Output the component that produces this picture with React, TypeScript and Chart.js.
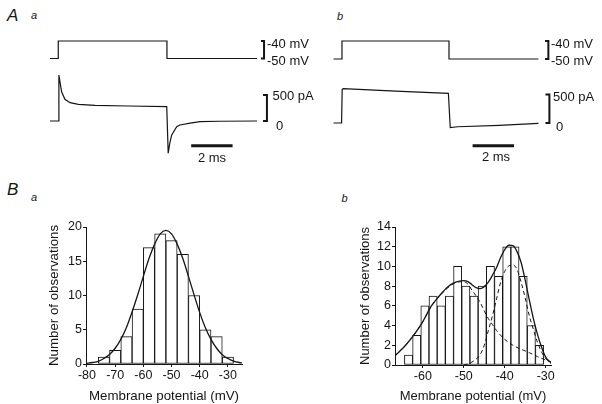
import React, { useEffect, useRef } from "react";
import { Chart, registerables } from "chart.js";

Chart.register(...registerables);

const FONT = "'Liberation Sans', Arial, Helvetica, sans-serif";
const INK = "#151515";
Chart.defaults.font.family = FONT;
Chart.defaults.color = INK;

// ---------------- Panel A a (voltage step and current) ----------------
const aaVoltTimeMs = [0, 0.4, 0.4, 5.65, 5.65, 10];
const aaVoltMV = [-50, -50, -40, -40, -50, -50];
const aaCurTimeMs = [0, 0.4, 0.43, 0.56, 0.72, 0.97, 1.37, 2.18, 3.77, 5.64, 5.71, 5.79, 5.88, 6.12, 6.28, 6.77, 7.25, 8.21, 10];
const aaCurPA = [0, 0, 885, 563, 417, 352, 321, 302, 288, 275, -620, -420, -269, -110, -77, -40, -13, -5, 0];

// ---------------- Panel A b ----------------
const abVoltTimeMs = [0, 0.41, 0.41, 5.58, 5.58, 9.9];
const abVoltMV = [-50, -50, -40, -40, -50, -50];
const abCurTimeMs = [0, 0.39, 0.42, 0.47, 3.0, 5.55, 5.64, 6.0, 8.0, 9.9];
const abCurPA = [0, 0, 591, 602, 560, 521, -82, -66, -40, -5];

// scale bars / calibration brackets
const timeBarMs = 2;
const voltBracketMV = [-40, -50];
const curBracketPA = [500, 0];

// ---------------- Panel B a histogram ----------------
const baBinCentersMV = [-74, -70, -66, -62, -58, -54, -50, -46, -42, -38, -34, -30];
const baCounts = [1, 2, 4, 8, 17, 19, 18, 16, 10, 5, 4, 1];
const baFitMV = [-80.3, -78, -76, -74, -72, -70, -68, -66, -64, -62, -60, -58, -56, -54, -52, -50, -48, -46, -44, -42, -40, -38, -36, -34, -32, -30, -28, -26, -25];
const baFitCount = [0.1, 0.22, 0.38, 0.8, 1.39, 2.3, 3.6, 5.34, 7.6, 10.1, 12.8, 15.4, 17.5, 19.0, 19.5, 19.0, 17.5, 15.4, 12.8, 10.1, 7.5, 5.3, 3.6, 2.3, 1.35, 0.8, 0.43, 0.22, 0.16];
const baXTicks = [-80, -70, -60, -50, -40, -30];

// ---------------- Panel B b histogram ----------------
const bbBinCentersMV = [-63.5, -61.5, -59.5, -57.5, -55.5, -53.5, -51.5, -49.5, -47.5, -45.5, -43.5, -41.5, -39.5, -37.5, -35.5, -33.5, -31.5];
const bbCounts = [1, 3, 6, 7, 6, 7, 10, 8, 7, 8, 10, 9, 12, 12, 9, 4, 2];
const bbSumMV = [-66.8, -66, -64, -62, -60, -58, -56, -54, -52, -50, -49, -48, -47, -46, -45, -44, -43, -42, -41, -40, -39, -38, -37, -36, -35, -34, -33, -32, -31, -30, -29, -28.7];
const bbSumCount = [0.95, 1.25, 2.1, 3.15, 4.4, 5.95, 7.0, 7.9, 8.4, 8.55, 8.45, 8.15, 7.85, 7.75, 7.95, 8.4, 9.1, 9.9, 10.9, 11.7, 12.15, 12.1, 11.5, 10.4, 8.6, 6.6, 4.7, 3.1, 1.8, 0.8, 0.35, 0.25];
const bbBroadMV = [-66.8, -66, -64, -62, -60, -58, -56, -54, -52, -50, -49, -48, -47, -46, -45, -44, -43, -42, -40, -38, -36, -34, -32, -30, -28.7];
const bbBroadCount = [0.95, 1.25, 2.1, 3.15, 4.4, 5.9, 6.95, 7.8, 8.35, 8.45, 8.2, 7.6, 7.0, 6.35, 5.5, 4.7, 4.1, 3.5, 2.6, 2.0, 1.6, 1.25, 0.85, 0.5, 0.3];
const bbNarrowMV = [-50, -49, -48, -47, -46, -45, -44, -43, -42, -41, -40, -39, -38, -37, -36, -35, -34, -33, -32, -31, -30, -29, -28.7];
const bbNarrowCount = [0, 0.1, 0.3, 0.6, 1.05, 2.0, 3.5, 5.0, 6.7, 8.4, 9.5, 10.05, 10.15, 9.7, 8.4, 6.8, 5.0, 3.6, 2.3, 1.3, 0.65, 0.25, 0.15];
const bbXTicks = [-60, -50, -40, -30];

type Pt = { x: number; y: number };
const zip = (xs: number[], ys: number[]): Pt[] => xs.map((x, i) => ({ x, y: ys[i] }));

function ChartCanvas(props: { left: number; top: number; width: number; height: number; make: () => any }) {
  const ref = useRef<HTMLCanvasElement | null>(null);
  useEffect(() => {
    if (!ref.current) return;
    const chart = new Chart(ref.current, props.make());
    return () => chart.destroy();
  }, []);
  return (
    <div style={{ position: "absolute", left: props.left, top: props.top, width: props.width, height: props.height }}>
      <canvas ref={ref} width={props.width} height={props.height} style={{ width: props.width, height: props.height, display: "block" }} />
    </div>
  );
}

function Txt(props: { x: number; y: number; size?: number; italic?: boolean; center?: boolean; children: React.ReactNode }) {
  return (
    <div
      style={{
        position: "absolute",
        left: props.x,
        top: props.y,
        fontFamily: FONT,
        fontSize: props.size ?? 13,
        fontStyle: props.italic ? "italic" : "normal",
        lineHeight: 1,
        whiteSpace: "nowrap",
        color: INK,
        transform: `translate(${props.center ? "-50%" : "0"}, -50%)`,
      }}
    >
      {props.children}
    </div>
  );
}

function traceConfig(o: {
  voltT: number[]; voltV: number[]; curT: number[]; curI: number[];
  tMin: number; tMax: number; vMin: number; vMax: number; iMin: number; iMax: number;
  vBr: [number, number]; iBr: [number, number]; barStart: number; barY: number;
}) {
  const line = (data: Pt[], axis: string, extra: any = {}) => ({
    type: "line", data, yAxisID: axis, borderColor: INK, borderWidth: 1.2,
    pointRadius: 0, tension: 0, fill: false, borderJoinStyle: "miter", ...extra,
  });
  const bracket = (t0: number, t1: number, hi: number, lo: number): Pt[] => [
    { x: t0, y: hi }, { x: t1, y: hi }, { x: t1, y: lo }, { x: t0, y: lo },
  ];
  return {
    type: "line",
    data: {
      datasets: [
        line(zip(o.voltT, o.voltV), "yV"),
        line(zip(o.curT, o.curI), "yI"),
        line(bracket(o.vBr[0], o.vBr[1], voltBracketMV[0], voltBracketMV[1]), "yV", { borderWidth: 2 }),
        line(bracket(o.iBr[0], o.iBr[1], curBracketPA[0], curBracketPA[1]), "yI", { borderWidth: 2 }),
        line([{ x: o.barStart, y: o.barY }, { x: o.barStart + timeBarMs, y: o.barY }], "yI", { borderWidth: 3 }),
      ],
    },
    options: {
      responsive: false,
      animation: false,
      events: [],
      layout: { padding: 0 },
      plugins: { legend: { display: false }, tooltip: { enabled: false } },
      scales: {
        x: { type: "linear", display: false, min: o.tMin, max: o.tMax },
        yV: { type: "linear", display: false, min: o.vMin, max: o.vMax },
        yI: { type: "linear", display: false, min: o.iMin, max: o.iMax },
      },
    },
  };
}

function histConfig(o: {
  centers: number[]; counts: number[];
  fits: { x: number[]; y: number[]; dash?: number[] }[];
  xMin: number; xMax: number; xTicks: number[]; yMax: number; yStep: number;
  yAxisWidth: number; xAxisHeight: number; titlePad: number; padTop: number; padRight: number;
  yTitleSize: number; xTitleSize: number;
}) {
  const fitSets = o.fits.map((f) => ({
    type: "line", data: zip(f.x, f.y), borderColor: INK, borderWidth: f.dash ? 1 : 1.3,
    borderDash: f.dash ?? [], pointRadius: 0, cubicInterpolationMode: "monotone", fill: false, order: 0,
  }));
  return {
    type: "bar",
    data: {
      datasets: [
        {
          type: "bar", data: zip(o.centers, o.counts), backgroundColor: "#ffffff",
          borderColor: INK, borderWidth: 1, barPercentage: 1, categoryPercentage: 1,
          borderSkipped: false, order: 2,
        },
        ...fitSets,
      ],
    },
    options: {
      responsive: false,
      animation: false,
      events: [],
      layout: { padding: { top: o.padTop, right: o.padRight, left: 0, bottom: 0 } },
      plugins: { legend: { display: false }, tooltip: { enabled: false } },
      scales: {
        x: {
          type: "linear", min: o.xMin, max: o.xMax, offset: false,
          afterBuildTicks: (s: any) => { s.ticks = o.xTicks.map((v) => ({ value: v })); },
          afterFit: (s: any) => { s.height = o.xAxisHeight; },
          ticks: { font: { size: 12.5 }, color: INK, padding: 1, maxRotation: 0, autoSkip: false, callback: (v: any) => String(v) },
          grid: { offset: false, drawOnChartArea: false, drawTicks: true, tickLength: 3, color: INK },
          border: { display: true, color: INK, width: 1 },
          title: { display: true, text: "Membrane potential (mV)", font: { size: o.xTitleSize }, color: INK, padding: { top: 0, bottom: 0 } },
        },
        y: {
          type: "linear", min: 0, max: o.yMax,
          afterFit: (s: any) => { s.width = o.yAxisWidth; },
          ticks: { stepSize: o.yStep, font: { size: 12.5 }, color: INK, padding: 1 },
          grid: { drawOnChartArea: false, drawTicks: true, tickLength: 3, color: INK },
          border: { display: true, color: INK, width: 1 },
          title: { display: true, text: "Number of observations", font: { size: o.yTitleSize }, color: INK, padding: { top: o.titlePad, bottom: 0 } },
        },
      },
    },
  };
}

export default function App() {
  return (
    <div style={{ position: "absolute", left: 0, top: 0, width: 602, height: 404, background: "#fff", overflow: "hidden" }}>
      {/* Panel labels */}
      <Txt x={7} y={14.5} size={17} italic>A</Txt>
      <Txt x={31} y={15.2} size={11} italic>a</Txt>
      <Txt x={337} y={16.2} size={11} italic>b</Txt>
      <Txt x={7} y={189.3} size={17} italic>B</Txt>
      <Txt x={31} y={197.2} size={11} italic>a</Txt>
      <Txt x={341.5} y={197.9} size={11} italic>b</Txt>

      {/* A a */}
      <ChartCanvas
        left={40} top={30} width={240} height={135}
        make={() => traceConfig({
          voltT: aaVoltTimeMs, voltV: aaVoltMV, curT: aaCurTimeMs, curI: aaCurPA,
          tMin: -0.483, tMax: 11.111, vMin: -110.86, vMax: -33.71, iMin: -846.2, iMax: 1750,
          vBr: [10.19, 10.34], iBr: [10.29, 10.48], barStart: 6.82, barY: -475,
        })}
      />
      <Txt x={267} y={42.7}>-40 mV</Txt>
      <Txt x={267} y={59.7}>-50 mV</Txt>
      <Txt x={272.5} y={95}>500 pA</Txt>
      <Txt x={276} y={125.3}>0</Txt>
      <Txt x={212} y={157} center>2 ms</Txt>

      {/* A b */}
      <ChartCanvas
        left={323} top={30} width={240} height={135}
        make={() => traceConfig({
          voltT: abVoltTimeMs, voltV: abVoltMV, curT: abCurTimeMs, curI: abCurPA,
          tMin: -0.507, tMax: 11.087, vMin: -108.89, vMax: -33.89, iMin: -736.8, iMax: 1631.6,
          vBr: [10.22, 10.38], iBr: [10.24, 10.43], barStart: 6.72, barY: -398,
        })}
      />
      <Txt x={551} y={42.7}>-40 mV</Txt>
      <Txt x={551} y={59.5}>-50 mV</Txt>
      <Txt x={553} y={95.5}>500 pA</Txt>
      <Txt x={556} y={126}>0</Txt>
      <Txt x={496} y={155.5} center>2 ms</Txt>

      {/* B a */}
      <ChartCanvas
        left={30} top={215} width={220} height={189}
        make={() => histConfig({
          centers: baBinCentersMV, counts: baCounts,
          fits: [{ x: baFitMV, y: baFitCount }],
          xMin: -80.35, xMax: -25, xTicks: baXTicks, yMax: 20, yStep: 5,
          yAxisWidth: 56, xAxisHeight: 40, titlePad: 16, padTop: 12, padRight: 8,
          yTitleSize: 13.3, xTitleSize: 13.3,
        })}
      />

      {/* B b */}
      <ChartCanvas
        left={340} top={215} width={220} height={189}
        make={() => histConfig({
          centers: bbBinCentersMV, counts: bbCounts,
          fits: [
            { x: bbBroadMV, y: bbBroadCount, dash: [4, 3] },
            { x: bbNarrowMV, y: bbNarrowCount, dash: [4, 3] },
            { x: bbSumMV, y: bbSumCount },
          ],
          xMin: -66.8, xMax: -28.7, xTicks: bbXTicks, yMax: 14, yStep: 2,
          yAxisWidth: 55, xAxisHeight: 39, titlePad: 17.5, padTop: 12, padRight: 9,
          yTitleSize: 13, xTitleSize: 13,
        })}
      />
    </div>
  );
}
